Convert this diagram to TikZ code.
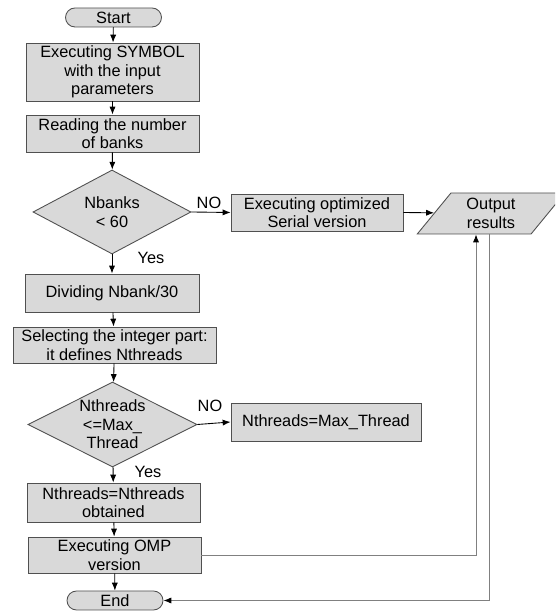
\documentclass[tikz,border=0pt]{standalone}
\usepackage{fontspec}
\setmainfont{Liberation Sans}
\usetikzlibrary{shapes.geometric,arrows.meta,calc}
\definecolor{boxgray}{RGB}{217,217,217}
\definecolor{edgegray}{RGB}{80,80,80}
\definecolor{linegray}{RGB}{128,128,128}
\newcommand{\pix}{0.02cm}

\tikzset{
  procbox/.style={draw=edgegray,fill=boxgray,align=center,inner sep=0pt},
  termbox/.style={procbox,rounded corners=9.5*\pix},
  decbox/.style={diamond,draw=edgegray,fill=boxgray,align=center,inner sep=-3pt,aspect=2},
  iobox/.style={trapezium,trapezium left angle=55.7,trapezium right angle=124.3,
    trapezium stretches=true,draw=edgegray,fill=boxgray,align=center,inner sep=0pt},
  flow/.style={->,black},
  back/.style={-{Latex[length=4.5pt,width=3.5pt,black]},linegray}
}

\begin{document}
\begin{tikzpicture}[x=\pix,y=\pix,>={Latex[length=4.5pt,width=3.5pt]},line width=0.5pt,
  font=\fontsize{9.3}{10.6}\selectfont]
 \useasboundingbox (0,0) rectangle (555,611);
 \clip (0,0) rectangle (555,611);
 % main column
 \node[termbox,minimum width=96*\pix,minimum height=19*\pix] (start) at (113.5,593.5) {Start};
 \node[procbox,minimum width=173*\pix,minimum height=58*\pix] (exec) at (112.5,539)
   {Executing SYMBOL\\with the input\\parameters};
 \node[procbox,minimum width=173*\pix,minimum height=37*\pix] (read) at (112.5,477.5)
   {Reading the number\\of banks};
 \node[decbox,minimum width=158*\pix,minimum height=84*\pix] (banks) at (112,399)
   {Nbanks\\< 60};
 \node[procbox,minimum width=174*\pix,minimum height=38*\pix] (divide) at (112,318)
   {Dividing Nbank/30};
 \node[procbox,minimum width=203*\pix,minimum height=36*\pix] (select) at (114.5,266)
   {Selecting the integer part:\\it defines Nthreads};
 \node[decbox,minimum width=169*\pix,minimum height=85*\pix] (threads) at (112.5,186.5)
   {Nthreads\\<=Max\_\\Thread};
 \node[procbox,minimum width=173*\pix,minimum height=39*\pix] (keep) at (113.5,108.5)
   {Nthreads=Nthreads\\obtained};
 \node[procbox,minimum width=173*\pix,minimum height=36*\pix] (omp) at (114.5,56)
   {Executing OMP\\version};
 \node[termbox,minimum width=96*\pix,minimum height=19*\pix] (end) at (115,10.5) {End};
 % right side
 \node[procbox,minimum width=172*\pix,minimum height=37*\pix] (serial) at (317,398.5)
   {Executing optimized\\Serial version};
 \node[iobox,minimum width=148*\pix,minimum height=41*\pix] (output) at (491,397.5)
   {Output\\results};
 \node[procbox,minimum width=190*\pix,minimum height=38*\pix] (maxthr) at (326,189)
   {Nthreads=Max\_Thread};
 % labels
 \node (no1) at (209,408) {NO};
 \node (yes1) at (151,353) {Yes};
 \node (no2) at (210,205) {NO};
 \node (yes2) at (148,139) {Yes};
 % connectors
 \draw[flow] (start) -- (exec);
 \draw[flow] (exec) -- (read);
 \draw[flow] (read) -- (banks);
 \draw[flow] (banks) -- (divide);
 \draw[flow] (divide) -- (select);
 \draw[flow] (select) -- (threads);
 \draw[flow] (threads) -- (keep);
 \draw[flow] (keep) -- (omp);
 \draw[flow] (omp) -- (end);
 \draw[flow] (banks.east) -- (serial.west);
 \draw[flow] (threads.east) -- (maxthr.west);
 \draw[flow] (serial.east) -- (output);
 \draw[back] (omp.east) -| ($(output.south)+(-15,0)$);
 \draw[back] ($(output.south)+(-2,0)$) |- (end.east);
\end{tikzpicture}
\end{document}
